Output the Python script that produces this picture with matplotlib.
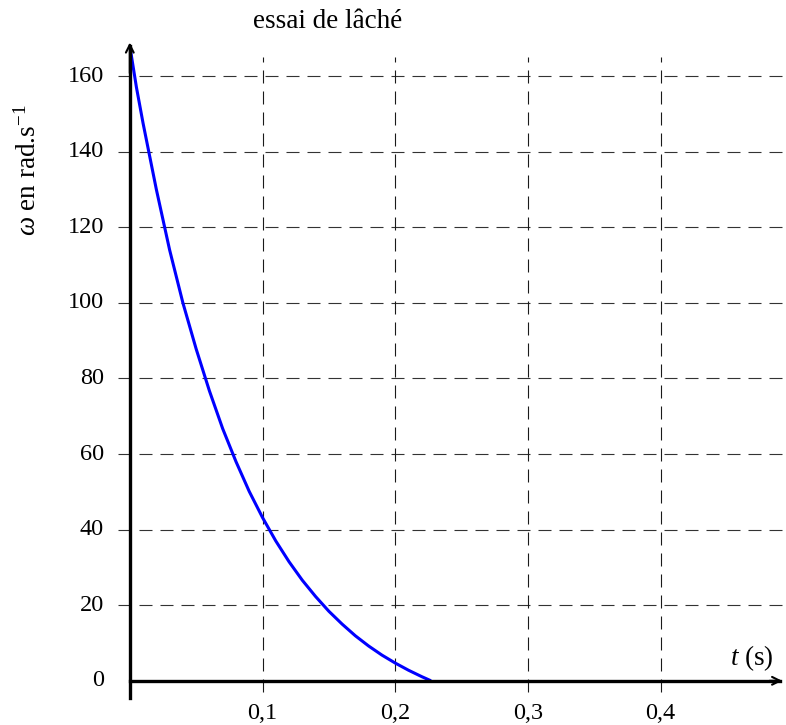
import numpy as np
import matplotlib
matplotlib.use("Agg")
from matplotlib import pyplot as plt

plt.rcParams['font.family'] = ['Liberation Serif', 'DejaVu Serif']
plt.rcParams['mathtext.fontset'] = 'custom'
plt.rcParams['mathtext.rm'] = 'Liberation Serif'
plt.rcParams['mathtext.it'] = 'Liberation Serif:italic'

# valeurs (t en s, omega en rad/s)
t_val = [0.0, 0.005, 0.01, 0.02, 0.03, 0.04, 0.05, 0.06, 0.07, 0.08, 0.09,
         0.10, 0.11, 0.12, 0.13, 0.14, 0.15, 0.16, 0.17, 0.18, 0.19,
         0.20, 0.21, 0.22, 0.227]
w_val = [168, 157, 147.5, 130, 114, 100, 87.8, 76.7, 66.7, 58, 50.1,
         43.2, 37, 31.5, 26.6, 22.3, 18.4, 15, 11.9, 9.2, 6.8,
         4.7, 2.8, 1.1, 0]

x_ticks = [0.1, 0.2, 0.3, 0.4]
x_labels = ["0,1", "0,2", "0,3", "0,4"]
y_ticks = [0, 20, 40, 60, 80, 100, 120, 140, 160]
y_grid = y_ticks[1:]

title = "essai de lâché"
ylabel = r"$\omega$ en rad.s$^{-1}$"
xlabel = r"$t$ (s)"

W, H = 786, 725
fig = plt.figure(figsize=(W / 100, H / 100), dpi=100)
ax = fig.add_axes([0, 0, 1, 1])
ax.axis('off')

# echelle : origine a (129.8, 680.8) px, 1327 px/s, 3.78 px/(rad/s)
x0, y0, sx, sy = 129.8, 680.8, 1327.0, 3.78
ax.set_xlim(-x0 / sx, (W - x0) / sx)
ax.set_ylim(-(H - y0) / sy, y0 / sy)

dash = (0, (11.7, 7.2))
ax.hlines(y_grid, -0.009, 0.4945, colors='0.2', lw=0.8, linestyles=dash)
ax.vlines(x_ticks, -2.9, 165, colors='0.1', lw=0.8, linestyles=dash)

ax.plot(t_val, w_val, color='#0000ff', lw=2.2, solid_capstyle='butt', zorder=3)

# axes avec fleches
ax.plot([0, 0], [-4.5, 168], color='black', lw=2.4, zorder=4)
ax.plot([0, 0.49], [0, 0], color='black', lw=2.4, zorder=4)
ax.annotate("", xy=(0, 169.6), xytext=(0, 160),
            arrowprops=dict(arrowstyle='->', lw=1.5, color='black', mutation_scale=14), zorder=5)
ax.annotate("", xy=(0.4937, 0), xytext=(0.48, 0),
            arrowprops=dict(arrowstyle='->', lw=1.5, color='black', mutation_scale=14), zorder=5)

fs_num = 17.5
fs_txt = 19.5
for v in y_ticks:
    ax.text(-0.0195, v, str(v), ha='right', va='center', fontsize=fs_num)
for v, lab in zip(x_ticks, x_labels):
    ax.text(v, -8.6, lab, ha='center', va='center', fontsize=fs_num)

ax.text(28 / W, 1 - 170 / H, ylabel, rotation=90, ha='center', va='center',
        fontsize=fs_txt, transform=ax.transAxes)
ax.text(328 / W, 1 - 21 / H, title, ha='center', va='center', fontsize=fs_txt,
        transform=ax.transAxes)
ax.text(752 / W, 1 - 658 / H, xlabel, ha='center', va='center', fontsize=fs_txt,
        transform=ax.transAxes)

fig.savefig("out.png", dpi=100)
